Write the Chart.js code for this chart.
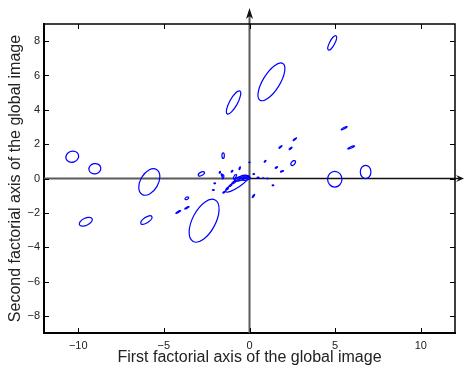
<!DOCTYPE html>
<html>
<head>
<meta charset="utf-8">
<script src="https://cdn.jsdelivr.net/npm/chart.js@4.4.1/dist/chart.umd.min.js"></script>
<style>
  html, body { margin: 0; padding: 0; background: #fff; }
  #wrap { width: 464px; height: 367px; }
</style>
</head>
<body>
<div id="wrap"><canvas id="chart" width="464" height="367"></canvas></div>
<script>
// Tick labels
const xTicks = [-10, -5, 0, 5, 10];
const yTicks = [-8, -6, -4, -2, 0, 2, 4, 6, 8];

const ellX   = [4.83, 1.28, -0.93, -10.35, -9.03, -5.85, -9.56, -6.02, -2.65, 4.98, 6.78,
                5.53, 5.94, 2.65, 1.81, 2.40, 2.55, -1.54, 0.91, 1.57, 1.90, -0.57, -1.02,
                0.00, 1.37, 0.23, -3.66, -4.16, -3.65, -2.81, -0.72,
                -2.03, -2.11, -1.49, -1.30, -0.91, -1.55, -1.73, -0.50, -0.30, -0.70,
                0.50, 0.25, 0.80, 1.05, -1.60, -1.10, -0.20, -0.85];
const ellY   = [7.90, 5.63, 4.43, 1.27, 0.57, -0.20, -2.52, -2.42, -2.46, -0.04, 0.38,
                2.93, 1.81, 2.29, 1.84, 1.75, 0.90, 1.33, 1.00, 0.64, 0.42, 0.60, 0.42,
                0.94, -0.40, -1.02, -1.15, -1.95, -1.71, 0.27, -0.32,
                -0.28, -0.67, -0.80, -0.60, -0.22, 0.10, 0.36, 0.02, 0.08, -0.05,
                0.05, 0.26, 0.02, 0.00, 0.20, -0.40, 0.00, 0.10];
const ellA   = [0.47, 1.26, 0.76, 0.38, 0.35, 0.84, 0.41, 0.38, 1.37, 0.46, 0.39,
                0.20, 0.22, 0.13, 0.12, 0.11, 0.17, 0.16, 0.07, 0.08, 0.10, 0.09, 0.07,
                0.04, 0.05, 0.12, 0.12, 0.16, 0.15, 0.20, 0.80,
                0.05, 0.06, 0.08, 0.10, 0.12, 0.12, 0.06, 0.40, 0.30, 0.20,
                0.06, 0.05, 0.05, 0.04, 0.08, 0.10, 0.25, 0.15];
const ellB   = [0.15, 0.49, 0.23, 0.32, 0.30, 0.52, 0.21, 0.16, 0.67, 0.42, 0.31,
                0.04, 0.04, 0.03, 0.03, 0.03, 0.10, 0.07, 0.03, 0.03, 0.03, 0.03, 0.03,
                0.02, 0.03, 0.03, 0.07, 0.03, 0.03, 0.10, 0.20,
                0.03, 0.03, 0.03, 0.04, 0.05, 0.05, 0.03, 0.12, 0.08, 0.08,
                0.03, 0.03, 0.02, 0.02, 0.04, 0.04, 0.10, 0.06];
const ellAng = [63, 58, 61, 20, 10, 60, 25, 35, 62, 90, 90,
                28, 23, 37, 40, 38, 50, 90, 45, 30, 20, 70, 45,
                0, 0, 55, 30, 30, 28, 30, 34,
                0, 0, 30, 40, 30, 80, 60, 20, 10, 30,
                0, 0, 0, 0, 120, 40, 15, 60];

const FONT = '"Liberation Sans", Arial, Helvetica, sans-serif';

function fmt(v) {
    return v < 0 ? '\u2212' + Math.abs(v) : String(v);
}

/**
 * Zero axes with arrow heads, drawn under the ellipses
 */
const zeroAxes = {
    id: 'zeroAxes',
    beforeDatasetsDraw(chart) {
        const { ctx, chartArea: area, scales: { x, y } } = chart;
        const x0 = x.getPixelForValue(0);
        const y0 = y.getPixelForValue(0);
        ctx.save();
        ctx.lineWidth = 2;
        ctx.strokeStyle = '#5a5a5a';
        // vertical axis
        ctx.beginPath();
        ctx.moveTo(x0, area.bottom);
        ctx.lineTo(x0, area.top - 12);
        ctx.stroke();
        // horizontal axis, left part gray, right part black
        ctx.beginPath();
        ctx.moveTo(area.left, y0);
        ctx.lineTo(x0, y0);
        ctx.stroke();
        ctx.strokeStyle = '#111';
        ctx.lineWidth = 1.5;
        ctx.beginPath();
        ctx.moveTo(x0, y0);
        ctx.lineTo(area.right + 4, y0);
        ctx.stroke();
        // arrow heads
        ctx.fillStyle = '#111';
        ctx.beginPath();
        ctx.moveTo(x0, area.top - 16);
        ctx.lineTo(x0 - 3.5, area.top - 5);
        ctx.lineTo(x0, area.top - 8);
        ctx.lineTo(x0 + 3.5, area.top - 5);
        ctx.closePath();
        ctx.fill();
        ctx.beginPath();
        ctx.moveTo(area.right + 9, y0);
        ctx.lineTo(area.right + 1, y0 - 3.5);
        ctx.lineTo(area.right + 4, y0);
        ctx.lineTo(area.right + 1, y0 + 3.5);
        ctx.closePath();
        ctx.fill();
        ctx.restore();
    }
};

/**
 * Ellipses drawn through the chart scales
 */
const ellipses = {
    id: 'ellipses',
    afterDatasetsDraw(chart) {
        const { ctx, scales: { x, y } } = chart;
        ctx.save();
        ctx.strokeStyle = '#0000ff';
        ctx.lineWidth = 1.2;
        for (let i = 0; i < ellX.length; i++) {
            const t = ellAng[i] * Math.PI / 180;
            const cx = x.getPixelForValue(ellX[i]);
            const cy = y.getPixelForValue(ellY[i]);
            const ax = x.getPixelForValue(ellX[i] + ellA[i] * Math.cos(t)) - cx;
            const ay = y.getPixelForValue(ellY[i] + ellA[i] * Math.sin(t)) - cy;
            const bx = x.getPixelForValue(ellX[i] - ellB[i] * Math.sin(t)) - cx;
            const by = y.getPixelForValue(ellY[i] + ellB[i] * Math.cos(t)) - cy;
            ctx.save();
            ctx.beginPath();
            ctx.transform(ax, ay, bx, by, cx, cy);
            ctx.arc(0, 0, 1, 0, Math.PI * 2);
            ctx.restore();
            ctx.stroke();
        }
        ctx.restore();
    }
};

/**
 * Box around the plot with inward ticks on all four sides
 */
const frame = {
    id: 'frame',
    afterDraw(chart) {
        const { ctx, chartArea: a, scales: { x, y } } = chart;
        const len = 5;
        ctx.save();
        ctx.strokeStyle = '#000';
        ctx.lineWidth = 1.5;
        ctx.beginPath();
        ctx.moveTo(a.left, a.top);
        ctx.lineTo(a.right, a.top);
        ctx.lineTo(a.right, a.bottom);
        ctx.stroke();
        ctx.lineWidth = 1;
        ctx.beginPath();
        xTicks.forEach(v => {
            const px = Math.round(x.getPixelForValue(v)) + 0.5;
            ctx.moveTo(px, a.bottom);
            ctx.lineTo(px, a.bottom - len);
            ctx.moveTo(px, a.top);
            ctx.lineTo(px, a.top + len);
        });
        yTicks.forEach(v => {
            const py = Math.round(y.getPixelForValue(v)) + 0.5;
            ctx.moveTo(a.left, py);
            ctx.lineTo(a.left + len, py);
            ctx.moveTo(a.right, py);
            ctx.lineTo(a.right - len, py);
        });
        ctx.stroke();
        ctx.restore();
    }
};

new Chart(document.getElementById('chart'), {
    type: 'scatter',
    data: {
        datasets: [{
            data: ellX.map((v, i) => ({ x: v, y: ellY[i] })),
            pointRadius: 0,
            showLine: false
        }]
    },
    options: {
        responsive: false,
        animation: false,
        devicePixelRatio: 1,
        layout: { padding: { top: 24, right: 9, left: 0, bottom: 0 } },
        plugins: {
            legend: { display: false },
            tooltip: { enabled: false }
        },
        scales: {
            x: {
                type: 'linear',
                min: -12,
                max: 12,
                afterBuildTicks: s => { s.ticks = xTicks.map(v => ({ value: v })); },
                afterFit: s => { s.height = 34; },
                grid: { display: false, drawTicks: false, tickLength: 0 },
                border: { display: true, color: '#000', width: 2 },
                ticks: {
                    color: '#222',
                    font: { family: FONT, size: 11 },
                    padding: 6,
                    maxRotation: 0,
                    callback: v => fmt(v)
                },
                title: {
                    display: true,
                    text: 'First factorial axis of the global image',
                    color: '#222',
                    font: { family: FONT, size: 16 },
                    padding: { top: 0, bottom: 0 }
                }
            },
            y: {
                type: 'linear',
                min: -9,
                max: 9,
                afterBuildTicks: s => { s.ticks = yTicks.map(v => ({ value: v })); },
                afterFit: s => { s.width = 44; },
                grid: { display: false, drawTicks: false, tickLength: 0 },
                border: { display: true, color: '#000', width: 2 },
                ticks: {
                    color: '#222',
                    font: { family: FONT, size: 11 },
                    padding: 4,
                    callback: v => fmt(v)
                },
                title: {
                    display: true,
                    text: 'Second factorial axis of the global image',
                    color: '#222',
                    font: { family: FONT, size: 16 },
                    padding: { top: 6, bottom: 0 }
                }
            }
        }
    },
    plugins: [zeroAxes, ellipses, frame]
});
</script>
</body>
</html>
